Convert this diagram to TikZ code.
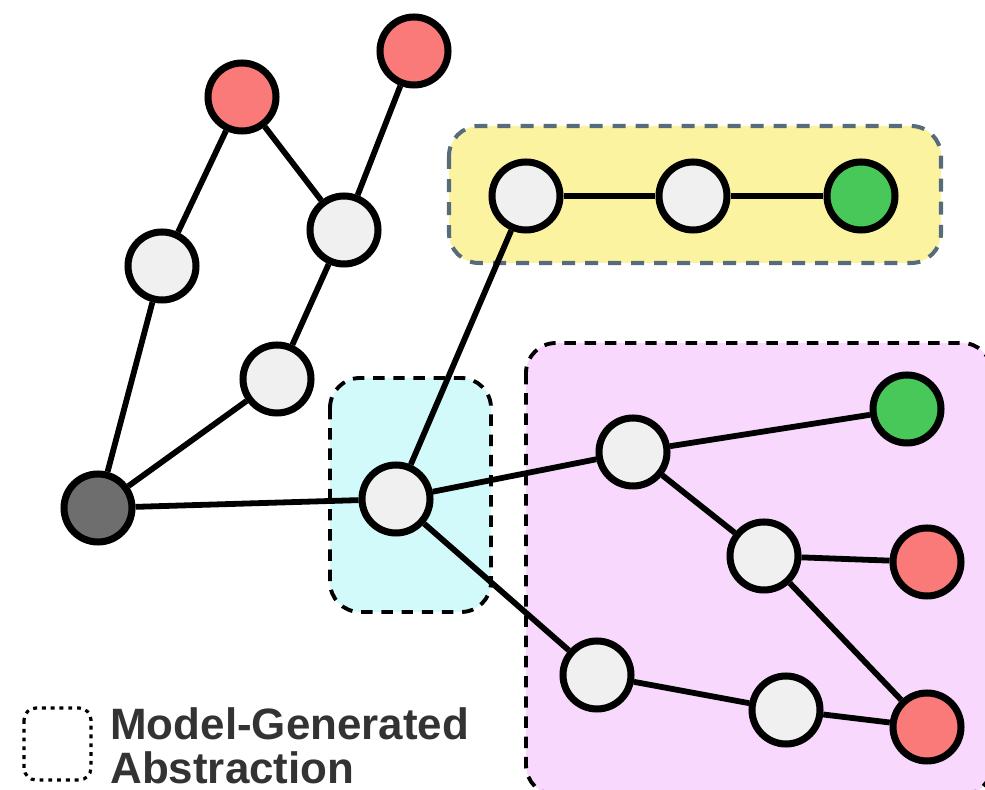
\documentclass[tikz,border=0pt]{standalone}
\usepackage{fontspec}
\setmainfont{Liberation Sans}
\usetikzlibrary{calc}

\definecolor{vfill}{HTML}{F0F0F0}
\definecolor{badleaf}{HTML}{FA7A7A}
\definecolor{goodleaf}{HTML}{48C858}
\definecolor{rootfill}{HTML}{6E6E6E}
\definecolor{absyellow}{HTML}{FCF3A0}
\definecolor{abscyan}{HTML}{D2FAFA}
\definecolor{abspink}{HTML}{F8D8FC}
\definecolor{slate}{HTML}{566B7B}
\definecolor{legendgrey}{HTML}{333333}

\begin{document}
\begin{tikzpicture}[x=0.02cm,y=-0.02cm,
	vtx/.style={draw,circle,line width=4pt,minimum size=1.36cm,inner sep=0,fill=vfill},
	bad/.style={vtx,fill=badleaf},
	good/.style={vtx,fill=goodleaf},
	root/.style={vtx,fill=rootfill},
	edge/.style={line width=3.3pt},
	absbox/.style={rounded corners=0.6cm,line width=2.2pt,dash pattern=on 6.5pt off 5pt}]
	\useasboundingbox (0,0) rectangle (985,790);

	%% abstraction boxes go first so they sit behind the graph
	\draw[absbox,fill=abspink] (526,343) rectangle (992,795);
	\draw[absbox,fill=abscyan] (330,378) rectangle (491,612);
	\draw[absbox,fill=absyellow,draw=slate,line width=2.3pt,dash pattern=on 7.4pt off 5.7pt] (449,126) rectangle (941,263);

	%left part of the tree
	\node[root] (r) at (98,508){};
	\node[vtx] (a1) at (162,266){};
	\node[vtx] (c1) at (277,379){};
	\node[vtx] (c2) at (344,230){};
	\node[bad] (f1) at (242,97){};
	\node[bad] (f2) at (414,51){};

	%% hub node in the small box
	\node[vtx] (h) at (396,499){};

	%% chain in the yellow box
	\node[vtx] (y1) at (526,196){};
	\node[vtx] (y2) at (693,196){};
	\node[good] (y3) at (861,196){};

	%% nodes in the pink box
	\node[vtx] (p1) at (633,452){};
	\node[good] (p2) at (907,409){};
	\node[vtx] (p3) at (764,556){};
	\node[bad] (p4) at (927,562){};
	\node[vtx] (q1) at (597,675){};
	\node[vtx] (q2) at (786,710){};
	\node[bad] (q3) at (927,727){};

	\draw[edge] (f1)--(a1);
	\draw[edge] (f1)--(c2);
	\draw[edge] (f2)--(c2);
	\draw[edge] (c2)--(c1);
	\draw[edge] (c1)--(r);
	\draw[edge] (a1)--(r);
	\draw[edge] (r)--(h);
	\draw[edge] (h)--(y1);
	\draw[edge] (y1)--(y2);
	\draw[edge] (y2)--(y3);
	\draw[edge] (h)--(p1);
	\draw[edge] (p1)--(p2);
	\draw[edge] (p1)--(p3);
	\draw[edge] (p3)--(p4);
	\draw[edge] (p3)--(q3);
	\draw[edge] (h)--(q1);
	\draw[edge] (q1)--(q2);
	\draw[edge] (q2)--(q3);

	%% legend
	\draw[rounded corners=0.24cm,line width=1.8pt,dash pattern=on 2.2pt off 2.8pt] (24,708) rectangle (91,780);
	\node[anchor=north west,inner sep=0,align=left,text=legendgrey,font=\fontsize{25}{25}\selectfont\bfseries] (lbl) at (110,707){Model-Generated\\Abstraction};
\end{tikzpicture}
\end{document}
